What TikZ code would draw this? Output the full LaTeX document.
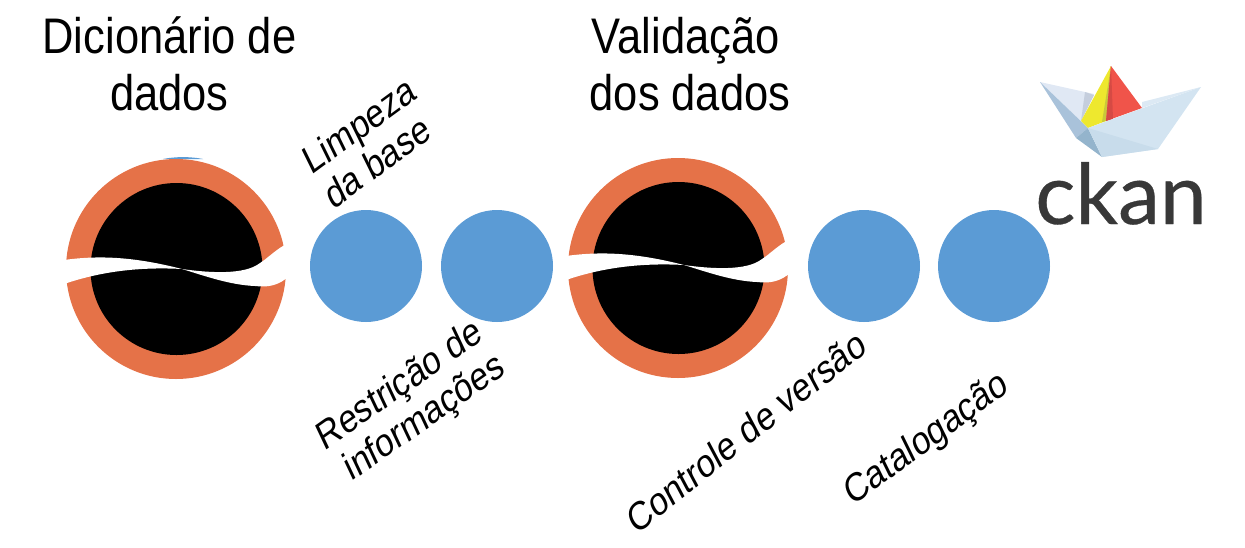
\documentclass[tikz,border=0pt]{standalone}
\usepackage{fontspec}
\setmainfont{Liberation Sans}
\newfontfamily\ckanfont[FakeBold=0.4]{Lato}
\definecolor{discblue}{HTML}{5B9BD5}
\definecolor{ringorange}{HTML}{E57248}
\definecolor{boatsail}{HTML}{E0E8F4}
\definecolor{boatgrey}{HTML}{C5CEDD}
\definecolor{boatback}{HTML}{DCE9F4}
\definecolor{boatleft}{HTML}{A9C2DA}
\definecolor{boatlow}{HTML}{94B4CC}
\definecolor{boatfront}{HTML}{D3E4F1}
\definecolor{boatfoot}{HTML}{C8DCEB}
\definecolor{flagyellow}{HTML}{EEE82E}
\definecolor{flagolive}{HTML}{C9C83A}
\definecolor{flagred}{HTML}{F0544A}
\definecolor{flagdark}{HTML}{D64A44}
\tikzset{
  bluedisc/.style={fill=discblue},
  ringdisc/.style={fill=ringorange},
  bandcut/.style={fill=white},
  bigtext/.style={align=center,inner sep=0pt,font=\fontsize{50}{57}\selectfont,xscale=.87,transform shape},
  smalltext/.style={align=center,inner sep=0pt,font=\fontsize{40}{43}\selectfont,xscale=.82,transform shape},
}
\begin{document}
\begin{tikzpicture}[x=1pt,y=-1pt]
\useasboundingbox (0,0) rectangle (1245,547);
% sliver of blue behind the first ring
\fill[bluedisc](163,159)..controls(175,156.5)and(191,156.5)..(203,159)--cycle;
\foreach \dx/\dy in {0/0,502/-1}{
\begin{scope}[xshift=\dx pt,yshift=-\dy pt]
\fill[ringdisc](176,269)circle[radius=110];
\fill(176.5,269)circle[radius=86];
\end{scope}
\begin{scope}[xshift=\dx pt,yshift=-4*\dy pt]
\fill[bandcut](64,260)..controls(100,255)and(135,257)..(182,269)
  ..controls(210,273)and(245,275)..(260,263)..controls(268,258)and(275,250)..(288,243)
  --(288,277)..controls(280,284)and(270,288)..(255,286)
  ..controls(230,285)and(205,276)..(182,269)
  ..controls(145,267)and(105,270)..(64,284)--cycle;
\end{scope}
}
\foreach \cx in {366,497,864,994}
  \fill[bluedisc](\cx,266)circle[radius=56];
\node[bigtext](dicionario)at(169.5,64){Dicionário de\\dados};
\node[bigtext](validacao)at(690,64){\mbox{Validação\hspace{10pt}}\\dos dados};
\node[smalltext,rotate=31](limpeza)at(368,143){Limpeza\\da base};
\node[smalltext,rotate=30](restricao)at(409,405){Restrição de\\\mbox{\hspace{20pt}informações}};
\node[smalltext,rotate=33](controle)at(746,431){Controle de versão};
\node[smalltext,rotate=31](catalogacao)at(927,440){Catalogação};
% ckan boat
\fill[boatsail](1040,82)--(1094,94)--(1081,121)--(1088,128)--cycle;
\fill[boatgrey](1085,92)--(1094,95)--(1081,121)--cycle;
\fill[boatback](1142,102)--(1201,87)--(1142,108)--cycle;
\fill[boatleft](1040,82)--(1088,128)--(1076,138)--cycle;
\fill[boatlow](1076,138)--(1088,128)--(1102,157)--cycle;
\fill[flagyellow](1111,66)--(1081,121)--(1088,128)--(1106,121)--cycle;
\fill[flagolive](1111,66)--(1106,121)--(1102,122)--cycle;
\fill[flagred](1111,66)--(1142,108)--(1106,121)--cycle;
\fill[flagdark](1111,66)--(1113,119)--(1106,121)--cycle;
\fill[boatfront](1088,128)--(1201,87)--(1158,149)--(1102,157)--cycle;
\fill[boatfoot](1088,128)--(1158,149)--(1102,157)--cycle;
\node[inner sep=0pt,anchor=base,text=black!78,font=\ckanfont\fontsize{84}{84}\selectfont](ckan)at(1121,224){ckan};
\end{tikzpicture}
\end{document}
